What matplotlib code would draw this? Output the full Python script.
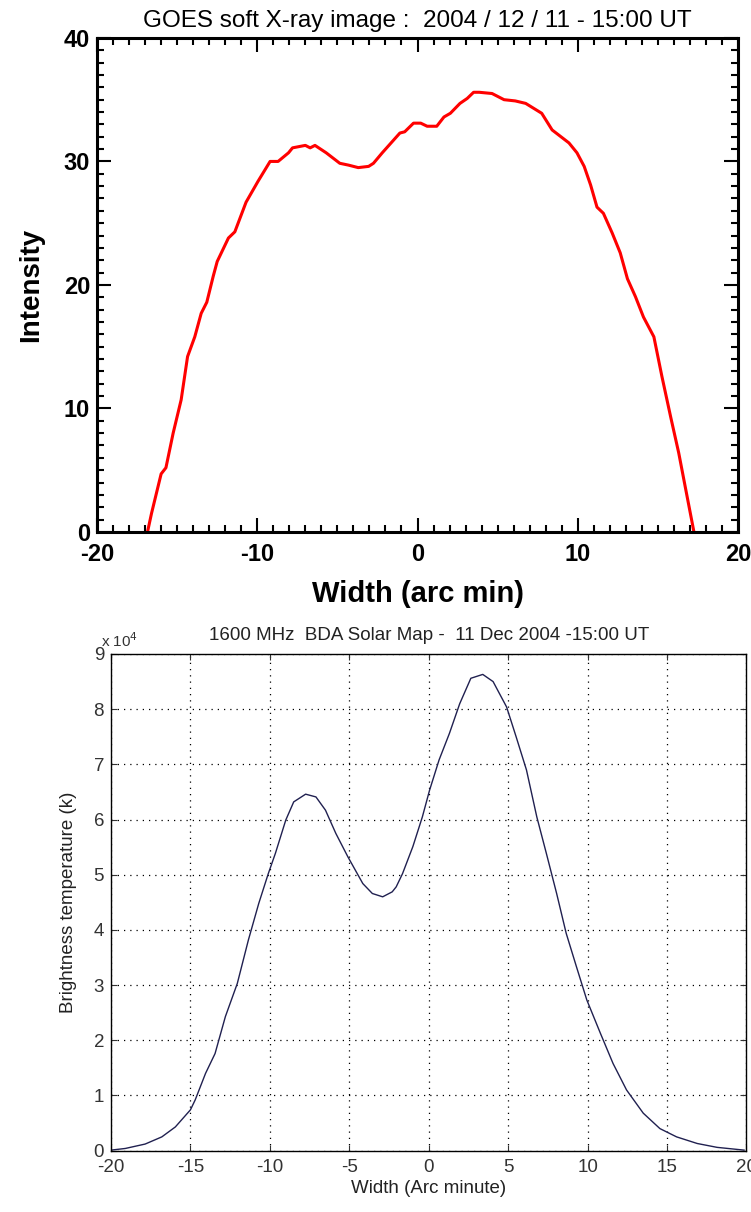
import matplotlib
matplotlib.use("Agg")
import matplotlib.pyplot as plt
from matplotlib.ticker import MultipleLocator

plt.rcParams['font.family'] = ['Liberation Sans', 'DejaVu Sans']
plt.rcParams['axes.unicode_minus'] = False

# GOES soft X-ray profile
goes_x = [-16.85, -16.6, -16.0, -15.7, -15.25, -14.75, -14.35, -13.9, -13.5, -13.15,
          -12.75, -12.5, -11.8, -11.4, -10.7, -9.95, -9.2, -8.7, -8.05, -7.8,
          -7.0, -6.7, -6.4, -5.7, -4.85, -4.3, -3.7, -3.05, -2.75, -2.2,
          -1.1, -0.8, -0.25, 0.2, 0.6, 1.2, 1.65, 2.05, 2.65, 3.1,
          3.5, 3.85, 4.65, 5.4, 6.1, 6.75, 7.75, 8.4, 9.0, 9.45,
          9.95, 10.4, 10.8, 11.2, 11.6, 12.15, 12.65, 13.1, 13.6, 14.1,
          14.75, 15.25, 15.8, 16.3, 16.7, 17.25]
goes_y = [0.0, 1.5, 4.7, 5.2, 8.0, 10.7, 14.2, 15.8, 17.7, 18.6,
          20.7, 21.9, 23.8, 24.3, 26.7, 28.4, 30.0, 30.0, 30.7, 31.1,
          31.3, 31.1, 31.3, 30.7, 29.85, 29.7, 29.5, 29.6, 29.85, 30.7,
          32.3, 32.4, 33.1, 33.1, 32.85, 32.85, 33.6, 33.9, 34.7, 35.1,
          35.6, 35.6, 35.5, 35.0, 34.9, 34.7, 33.9, 32.55, 31.95, 31.5,
          30.7, 29.6, 28.1, 26.3, 25.8, 24.2, 22.6, 20.5, 19.05, 17.4,
          15.8, 12.6, 9.3, 6.4, 3.7, 0.0]

# BDA 1600 MHz brightness temperature, units of 1e4 K
bda_x = [-20, -19.1, -17.85, -16.8, -15.95, -15.0, -14.7, -14.05, -13.45, -12.8,
         -12.05, -11.35, -10.7, -10.1, -9.65, -9.0, -8.5, -7.75, -7.1, -6.5,
         -5.85, -5.1, -4.15, -3.55, -2.9, -2.3, -2.05, -1.65, -1.0, -0.4,
         0.05, 0.65, 1.3, 1.95, 2.65, 3.4, 4.05, 4.9, 5.5, 6.15,
         6.8, 7.4, 8.05, 8.65, 9.3, 9.95, 10.8, 11.6, 12.45, 13.5,
         14.55, 15.6, 16.9, 18.15, 19.85]
bda_tb = [0.01, 0.04, 0.12, 0.25, 0.43, 0.74, 0.92, 1.40, 1.76, 2.43,
          3.03, 3.82, 4.48, 5.02, 5.39, 5.99, 6.32, 6.46, 6.41, 6.17,
          5.75, 5.33, 4.84, 4.66, 4.60, 4.69, 4.78, 5.02, 5.51, 6.05,
          6.53, 7.08, 7.56, 8.10, 8.56, 8.63, 8.50, 8.04, 7.50, 6.90,
          6.05, 5.39, 4.66, 3.94, 3.33, 2.73, 2.13, 1.58, 1.10, 0.68,
          0.40, 0.25, 0.13, 0.06, 0.01]

fig = plt.figure(figsize=(7.51, 12.12), dpi=100)

# --- top: GOES ---
ax1 = fig.add_axes([0.1292, 0.5611, 0.8535, 0.4076])
ax1.plot(goes_x, goes_y, color='red', lw=2.2)
ax1.set_xlim(-20, 20)
ax1.set_ylim(0, 40)
ax1.xaxis.set_major_locator(MultipleLocator(10))
ax1.xaxis.set_minor_locator(MultipleLocator(1))
ax1.yaxis.set_major_locator(MultipleLocator(10))
ax1.yaxis.set_minor_locator(MultipleLocator(1))
ax1.tick_params(which='both', direction='in', top=True, right=True, width=1.5)
ax1.tick_params(which='major', length=10, labelsize=17)
ax1.tick_params(axis='x', which='major', pad=8)
ax1.tick_params(axis='y', which='major', pad=5)
ax1.tick_params(which='minor', length=5)
for lab in ax1.get_xticklabels() + ax1.get_yticklabels():
    lab.set_fontweight('bold')
for sp in ax1.spines.values():
    sp.set_linewidth(2.2)
ax1.set_title("GOES soft X-ray image :  2004 / 12 / 11 - 15:00 UT", fontsize=17.5, pad=8)
ax1.set_xlabel("Width (arc min)", fontsize=21, fontweight='bold', labelpad=10)
ax1.set_ylabel("Intensity", fontsize=20, fontweight='bold', labelpad=14)

# --- bottom: BDA ---
ax2 = fig.add_axes([0.1478, 0.0506, 0.8462, 0.4098])
ax2.plot(bda_x, bda_tb, color='#202050', lw=1.0)
ax2.set_xlim(-20, 20)
ax2.set_ylim(0, 9)
ax2.xaxis.set_major_locator(MultipleLocator(5))
ax2.yaxis.set_major_locator(MultipleLocator(1))
ax2.grid(True, color='black', linestyle=(0, (1, 4)), linewidth=0.9)
ax2.tick_params(direction='in', top=True, right=True, length=4, width=0.8,
                labelsize=13.5, colors='#333333')
ax2.tick_params(axis='x', pad=6)
ax2.tick_params(axis='y', pad=5)
for sp in ax2.spines.values():
    sp.set_linewidth(1.0)
ax2.set_title("1600 MHz  BDA Solar Map -  11 Dec 2004 -15:00 UT", fontsize=13.5,
              pad=10, color='#222222')
ax2.set_xlabel("Width (Arc minute)", fontsize=13.5, color='#222222', labelpad=3)
ax2.set_ylabel("Brightness temperature (k)", fontsize=13.5, color='#222222', labelpad=12)
ax2.text(-0.015, 1.008, r"x 10$^4$", transform=ax2.transAxes, fontsize=11,
         color='#333333', ha='left', va='bottom')

fig.savefig("out.png", dpi=100)
